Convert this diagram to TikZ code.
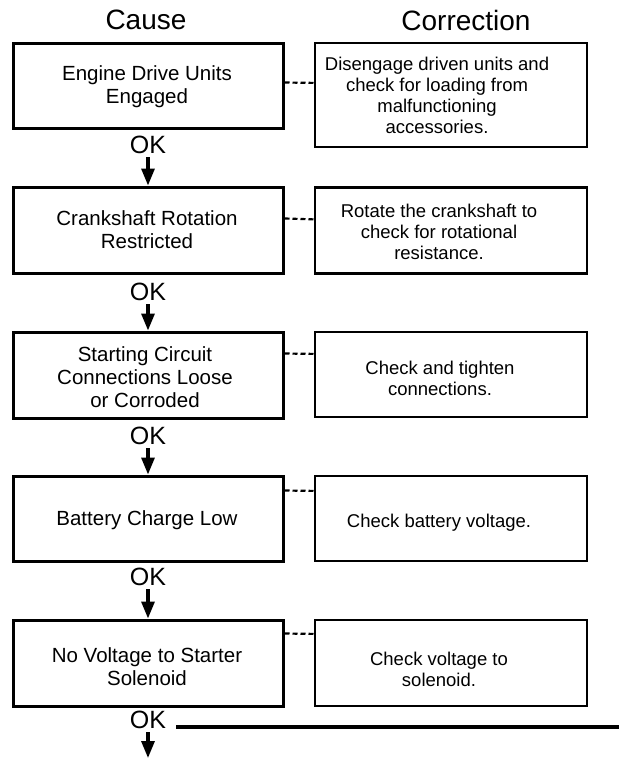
\documentclass[tikz,border=0pt]{standalone}
\usepackage{fontspec}
\setmainfont{Liberation Sans}
\usetikzlibrary{arrows.meta}
\begin{document}
\begin{tikzpicture}[x=1pt,y=-1pt,
  causebox/.style={draw, line width=3pt, minimum width=270pt, minimum height=86pt, inner sep=0pt},
  corrbox/.style={draw, line width=2.2pt, minimum width=272pt, minimum height=86pt, inner sep=0pt},
  causetext/.style={align=center, inner sep=0pt, font=\fontsize{20.5pt}{23pt}\selectfont},
  corrtext/.style={align=center, inner sep=0pt, font=\fontsize{18.5pt}{21pt}\selectfont},
  header/.style={inner sep=0pt, font=\fontsize{28pt}{30pt}\selectfont},
  oklabel/.style={inner sep=0pt, font=\fontsize{25pt}{27pt}\selectfont},
  dashconn/.style={line width=2.2pt, dash pattern=on 5pt off 3pt},
  okarrow/.style={line width=3.2pt, shorten <=3pt, -{Triangle[length=17pt,width=13pt]}},
  exitline/.style={line width=3.5pt}]
\useasboundingbox (0,0) rectangle (619,758);
% headers
\node[header] (hcause) at (146,20) {Cause};
\node[header] (hcorr) at (466,20) {Correction};
% cause boxes
\node[causebox, minimum height=85pt] (c1) at (148,85.5) {};
\node[causebox] (c2) at (148,230) {};
\node[causebox] (c3) at (148,375) {};
\node[causebox, minimum height=85pt] (c4) at (148,518.5) {};
\node[causebox] (c5) at (148,663) {};
% correction boxes
\node[corrbox, minimum height=104pt] (r1) at (451,95) {};
\node[corrbox] (r2) at (451,230.5) {};
\node[corrbox, minimum height=85pt] (r3) at (451,374.5) {};
\node[corrbox, minimum height=85pt] (r4) at (451,518.5) {};
\node[corrbox] (r5) at (451,663) {};
% cause texts
\node[causetext] (c1t) at (147,87) {Engine Drive Units\\Engaged};
\node[causetext] (c2t) at (147,230) {Crankshaft Rotation\\Restricted};
\node[causetext] (c3t) at (145,377) {Starting Circuit\\Connections Loose\\or Corroded};
\node[causetext] (c4t) at (147,520) {Battery Charge Low};
\node[causetext] (c5t) at (147,667) {No Voltage to Starter\\Solenoid};
% correction texts
\node[corrtext] (r1t) at (437,95.5) {Disengage driven units and\\check for loading from\\malfunctioning\\accessories.};
\node[corrtext] (r2t) at (439,232) {Rotate the crankshaft to\\check for rotational\\resistance.};
\node[corrtext] (r3t) at (440,378) {Check and tighten\\connections.};
\node[corrtext] (r4t) at (439,523) {Check battery voltage.};
\node[corrtext] (r5t) at (439,669) {Check voltage to\\solenoid.};
% dashed connectors
\draw[dashconn] ([yshift=-41pt]c1.north east) -- ([yshift=-41pt]r1.north west);
\draw[dashconn] ([yshift=-33pt]c2.north east) -- ([yshift=-33pt]r2.north west);
\draw[dashconn] ([yshift=-23pt]c3.north east) -- ([yshift=-23pt]r3.north west);
\draw[dashconn] ([yshift=-16pt]c4.north east) -- ([yshift=-16pt]r4.north west);
\draw[dashconn] ([yshift=-15pt]c5.north east) -- ([yshift=-15pt]r5.north west);
% OK labels
\node[oklabel] (ok1) at (148,145) {OK};
\node[oklabel] (ok2) at (148,292) {OK};
\node[oklabel] (ok3) at (148,436) {OK};
\node[oklabel] (ok4) at (148,577) {OK};
\node[oklabel] (ok5) at (148,720) {OK};
% arrows
\draw[okarrow] (ok1.south) -- (c2.north);
\draw[okarrow] (ok2.south) -- (c3.north);
\draw[okarrow] (ok3.south) -- (c4.north);
\draw[okarrow] (ok4.south) -- (c5.north);
\coordinate (endpt) at (148,758);
\draw[okarrow] (ok5.south) -- (endpt);
% exit line
\coordinate (lineend) at (619,727);
\draw[exitline] ([xshift=10pt,yshift=-7pt]ok5.east) -- (lineend);
\end{tikzpicture}
\end{document}
